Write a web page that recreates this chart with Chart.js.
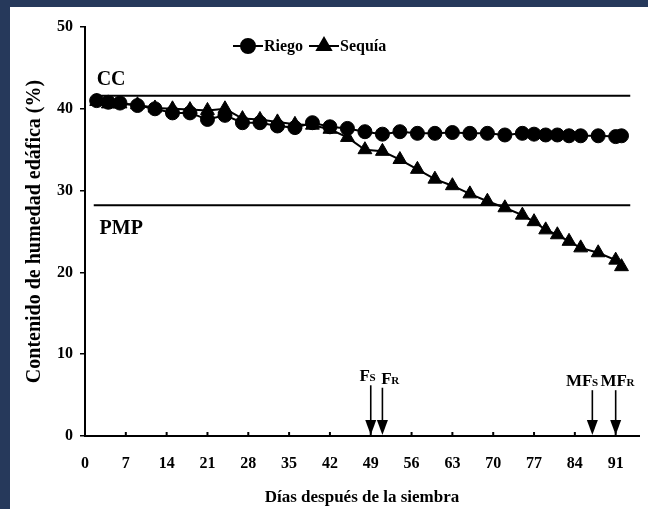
<!DOCTYPE html>
<html>
<head>
<meta charset="utf-8">
<script src="https://cdn.jsdelivr.net/npm/chart.js@4.4.0/dist/chart.umd.min.js"></script>
<style>
  html, body { margin: 0; padding: 0; background: #26395b; }
  #wrap { position: absolute; left: 10px; top: 7px; width: 638px; height: 502px; background: #fff; }
</style>
</head>
<body>
<div id="wrap"><canvas id="chart"></canvas></div>
<script>
// --- DATA ---
const dias = [2, 4, 6, 9, 12, 15, 18, 21, 24, 27, 30, 33, 36, 39, 42, 45, 48, 51, 54, 57, 60, 63, 66, 69, 72, 75, 77, 79, 81, 83, 85, 88, 91, 92];
const riego = [41.0, 40.8, 40.7, 40.4, 40.0, 39.5, 39.5, 38.7, 39.2, 38.3, 38.3, 37.9, 37.7, 38.3, 37.8, 37.6, 37.2, 36.9, 37.2, 37.0,
               37.0, 37.1, 37.0, 37.0, 36.8, 37.0, 36.9, 36.8, 36.8, 36.7, 36.7, 36.7, 36.6, 36.7];
const sequia = [40.9, 40.6, 40.6, 40.5, 40.1, 40.0, 39.9, 39.8, 40.0, 38.8, 38.7, 38.4, 38.1, 38.0, 37.5, 36.5, 35.0, 34.8, 33.8, 32.6,
                31.4, 30.6, 29.6, 28.7, 27.9, 27.0, 26.2, 25.2, 24.6, 23.8, 23.0, 22.4, 21.5, 20.7];

const xTicks = [0, 7, 14, 21, 28, 35, 42, 49, 56, 63, 70, 77, 84, 91];
const yTicks = [0, 10, 20, 30, 40, 50];

// capacidad de campo y punto de marchitez permanente
const limiteCC = 41.6;
const limitePMP = 28.2;
const rangoLimites = [1.5, 93.5];

// fenologia (floracion / madurez fisiologica)
const fenoDias = [49, 51, 87, 91];
const fenoTexto = ['F', 'F', 'MF', 'MF'];
const fenoSub = ['S', 'R', 'S', 'R'];
const fenoAltura = [6.2, 5.9, 5.6, 5.6];

// --- STYLE ---
const SERIF = '"Liberation Serif", "Times New Roman", serif';
const fenoDx = [-3, 8, -10, 2];

const pts = (xs, ys) => xs.map((x, i) => ({ x: x, y: ys[i] }));

const extras = {
  id: 'extras',
  afterDraw(chart) {
    const ctx = chart.ctx;
    const xs = chart.scales.x, ys = chart.scales.y;
    const area = chart.chartArea;
    ctx.save();
    ctx.strokeStyle = '#000';
    ctx.fillStyle = '#000';

    // ticks hacia adentro en el eje x
    ctx.lineWidth = 2;
    xTicks.forEach(v => {
      if (v === 0) return;
      const px = xs.getPixelForValue(v);
      ctx.beginPath();
      ctx.moveTo(px, area.bottom);
      ctx.lineTo(px, area.bottom - 4);
      ctx.stroke();
    });

    // CC / PMP
    ctx.font = 'bold 20px ' + SERIF;
    ctx.textAlign = 'left';
    ctx.textBaseline = 'alphabetic';
    ctx.fillText('CC', xs.getPixelForValue(2), ys.getPixelForValue(limiteCC) - 11);
    ctx.fillText('PMP', xs.getPixelForValue(2.5), ys.getPixelForValue(limitePMP) + 29);

    // flechas
    fenoDias.forEach((d, i) => {
      const px = xs.getPixelForValue(d);
      const top = ys.getPixelForValue(fenoAltura[i]);
      const tip = area.bottom - 1;
      ctx.lineWidth = 1.6;
      ctx.beginPath();
      ctx.moveTo(px, top);
      ctx.lineTo(px, tip - 10);
      ctx.stroke();
      ctx.beginPath();
      ctx.moveTo(px - 5.5, tip - 15);
      ctx.lineTo(px + 5.5, tip - 15);
      ctx.lineTo(px, tip);
      ctx.closePath();
      ctx.fill();

      ctx.font = 'bold 17px ' + SERIF;
      const w1 = ctx.measureText(fenoTexto[i]).width;
      ctx.font = 'bold 11px ' + SERIF;
      const w2 = ctx.measureText(fenoSub[i]).width;
      const x0 = px + fenoDx[i] - (w1 + w2) / 2;
      const by = top - 4;
      ctx.font = 'bold 17px ' + SERIF;
      ctx.fillText(fenoTexto[i], x0, by);
      ctx.font = 'bold 11px ' + SERIF;
      ctx.fillText(fenoSub[i], x0 + w1 - 0.5, by);
    });

    // leyenda
    const ly = 39;
    const items = [
      { x: 223, text: 'Riego', style: 'circle', r: 7 },
      { x: 299, text: 'Sequía', style: 'triangle', r: 8 }
    ];
    items.forEach(it => {
      ctx.lineWidth = 2;
      ctx.beginPath();
      ctx.moveTo(it.x, ly);
      ctx.lineTo(it.x + 30, ly);
      ctx.stroke();
      Chart.helpers.drawPoint(ctx, { pointStyle: it.style, radius: it.r, rotation: 0, borderWidth: 1 }, it.x + 15, ly);
      ctx.font = 'bold 16px ' + SERIF;
      ctx.textBaseline = 'middle';
      ctx.fillText(it.text, it.x + 31, ly + 1);
      ctx.textBaseline = 'alphabetic';
    });
    ctx.restore();
  }
};

new Chart(document.getElementById('chart'), {
  type: 'line',
  data: {
    datasets: [
      { label: 'Riego', data: pts(dias, riego), borderColor: '#000', backgroundColor: '#000', borderWidth: 2,
        pointStyle: 'circle', pointRadius: 7, pointBorderWidth: 1, tension: 0 },
      { label: 'Sequía', data: pts(dias, sequia), borderColor: '#000', backgroundColor: '#000', borderWidth: 2,
        pointStyle: 'triangle', pointRadius: 8, pointBorderWidth: 1, tension: 0 },
      { label: 'CC', data: pts(rangoLimites, [limiteCC, limiteCC]), borderColor: '#000', borderWidth: 2, pointRadius: 0 },
      { label: 'PMP', data: pts(rangoLimites, [limitePMP, limitePMP]), borderColor: '#000', borderWidth: 2, pointRadius: 0 }
    ]
  },
  options: {
    responsive: true,
    maintainAspectRatio: false,
    animation: false,
    layout: { padding: { top: 20, right: 0, left: 0, bottom: 0 } },
    plugins: { legend: { display: false }, tooltip: { enabled: false } },
    scales: {
      x: {
        type: 'linear', min: 0, max: 95,
        afterBuildTicks: s => { s.ticks = xTicks.map(v => ({ value: v })); },
        afterFit: s => { s.height = 73; },
        grid: { display: false, drawTicks: false },
        border: { display: true, color: '#000', width: 2 },
        ticks: { color: '#000', padding: 18, maxRotation: 0, autoSkip: false, font: { family: SERIF, size: 16, weight: 'bold' } },
        title: { display: true, text: 'Días después de la siembra', color: '#000', padding: { top: 0, bottom: 1 },
                 font: { family: SERIF, size: 17, weight: 'bold' } }
      },
      y: {
        min: 0, max: 50,
        afterBuildTicks: s => { s.ticks = yTicks.map(v => ({ value: v })); },
        afterFit: s => { s.width = 75; },
        grid: { drawOnChartArea: false, drawTicks: true, tickLength: 5, color: '#000', lineWidth: 1.5 },
        border: { display: true, color: '#000', width: 2 },
        ticks: { color: '#000', padding: 7, font: { family: SERIF, size: 16, weight: 'bold' } },
        title: { display: true, text: 'Contenido de humedad edáfica (%)', color: '#000', padding: { top: 13, bottom: 0 },
                 font: { family: SERIF, size: 20, weight: 'bold' } }
      }
    }
  },
  plugins: [extras]
});
</script>
</body>
</html>
